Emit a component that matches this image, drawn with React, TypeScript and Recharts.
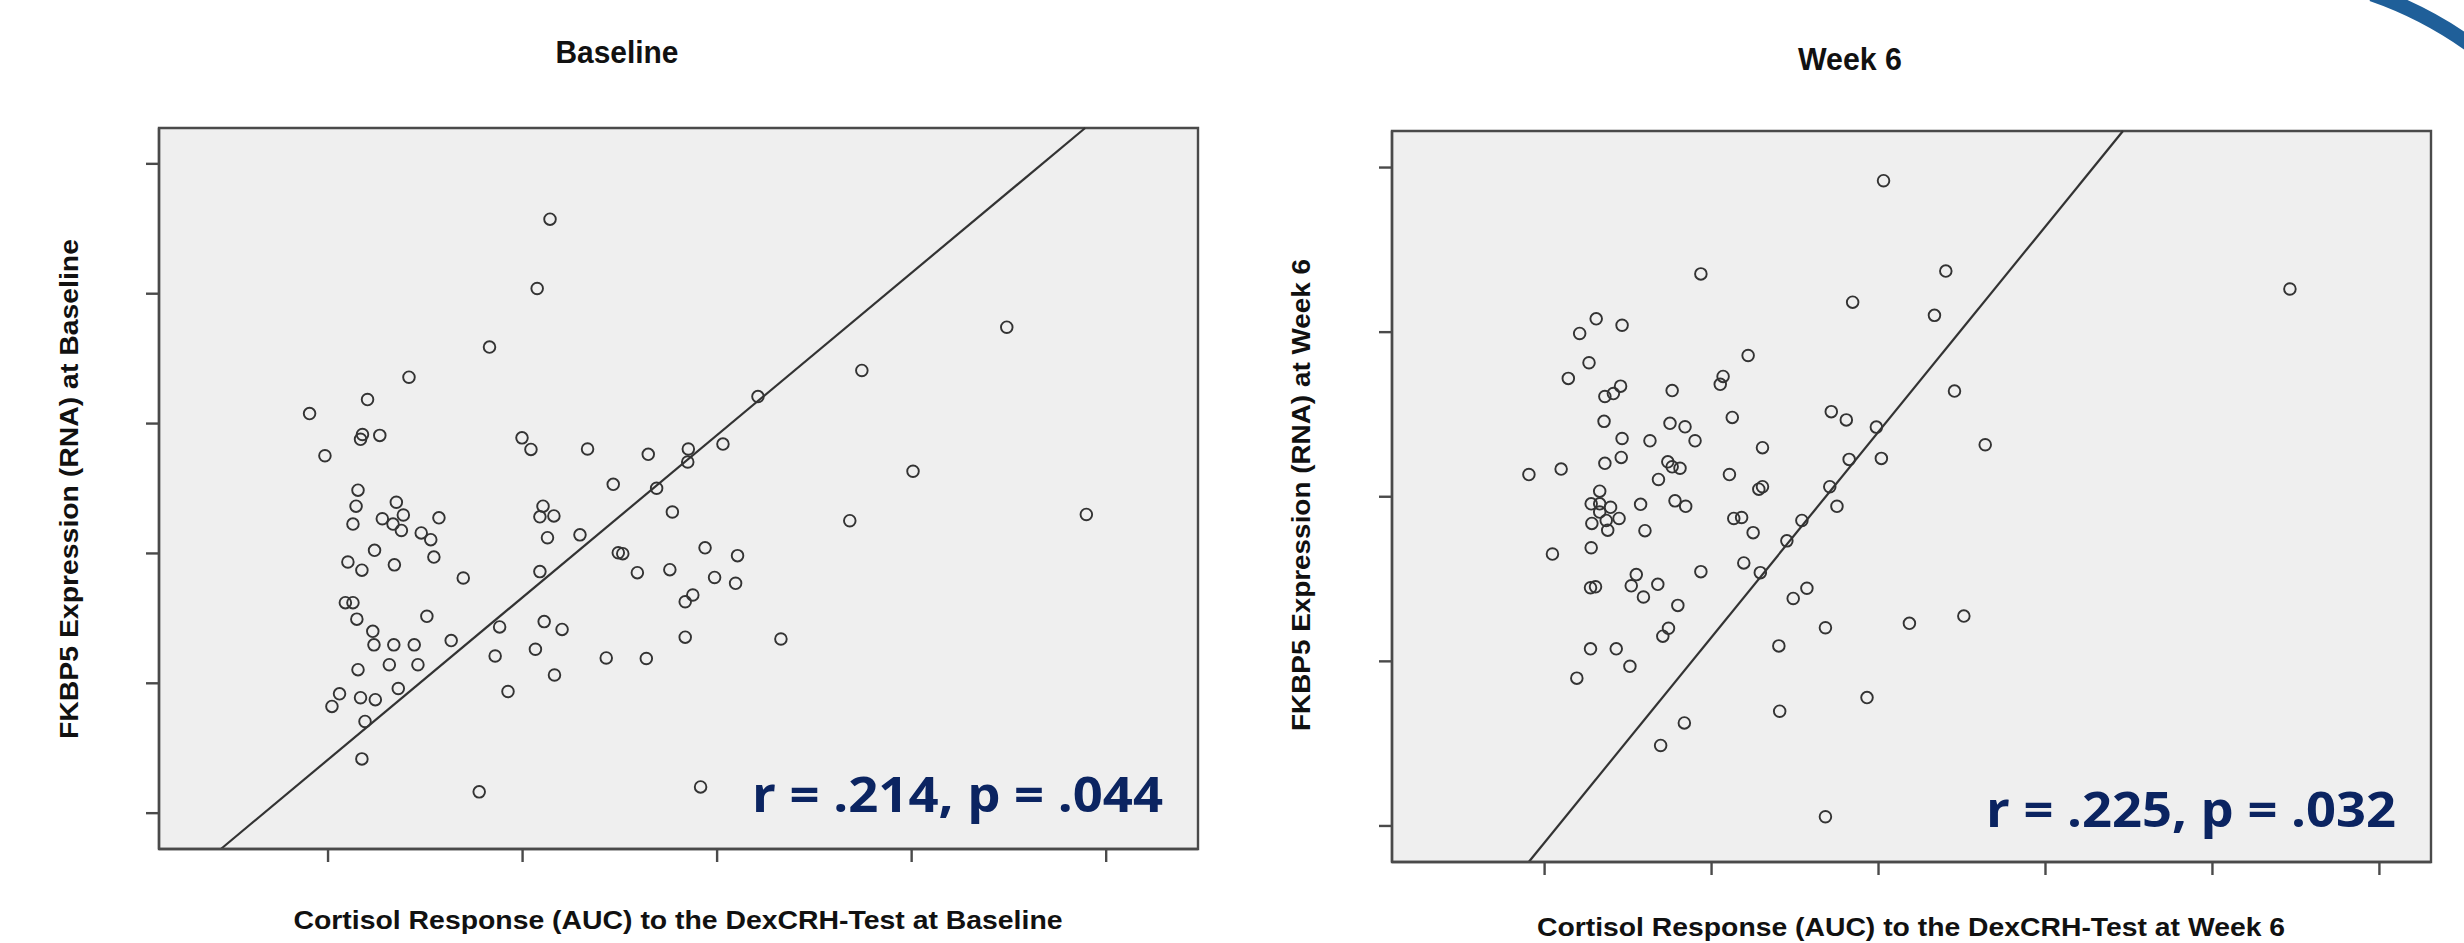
import React from 'react';
import {
  ScatterChart,
  Scatter,
  XAxis,
  YAxis,
  ReferenceArea,
  ReferenceLine,
} from 'recharts';

// ---------- Baseline panel ----------
const baselineX = [
  2.141, 2.075, 1.83, 1.416, 1.203, 0.905, 1.177, 1.167, 1.266, 0.984,
  4.489, 3.744, 3.21, 1.997, 2.043, 2.334, 2.646, 2.852, 3.03, 2.849,
  4.007, 2.466, 2.689, 1.154, 1.144, 1.351, 1.128, 1.279, 1.387, 1.334,
  1.377, 1.57, 1.479, 1.528, 2.105, 2.089, 2.161, 2.128, 2.77, 3.682,
  4.898, 2.295, 1.239, 1.544, 1.102, 1.174, 1.341, 2.492, 2.515, 2.938,
  3.105, 2.089, 2.59, 2.757, 2.987, 3.095, 1.695, 1.089, 1.128, 1.148,
  2.875, 2.836, 1.508, 1.23, 1.236, 1.338, 1.443, 1.633, 1.882, 2.111,
  2.203, 1.859, 2.066, 2.836, 3.328, 2.43, 2.636, 1.154, 1.315, 1.462,
  2.164, 1.925, 1.361, 1.059, 1.02, 1.167, 1.243, 1.19, 1.174, 1.777,
  2.915,
];
const baselineY = [
  4.574, 4.04, 3.589, 3.357, 3.185, 3.077, 2.916, 2.879, 2.909, 2.752,
  3.742, 3.409, 3.208, 2.89, 2.801, 2.804, 2.763, 2.804, 2.842, 2.704,
  2.633, 2.532, 2.502, 2.487, 2.364, 2.394, 2.226, 2.267, 2.296, 2.226,
  2.177, 2.274, 2.158, 2.106, 2.364, 2.282, 2.289, 2.121, 2.319, 2.252,
  2.3, 2.143, 2.024, 1.972, 1.934, 1.871, 1.912, 2.005, 1.998, 2.043,
  1.983, 1.86, 1.852, 1.875, 1.815, 1.77, 1.811, 1.621, 1.621, 1.494,
  1.68, 1.628, 1.516, 1.4, 1.296, 1.296, 1.296, 1.329, 1.434, 1.475,
  1.415, 1.21, 1.262, 1.355, 1.341, 1.195, 1.191, 1.105, 1.143, 1.143,
  1.064, 0.937, 0.96, 0.919, 0.822, 0.889, 0.874, 0.706, 0.418, 0.164,
  0.202,
];
const baselineXTicks = [1, 2, 3, 4, 5];
const baselineYTicks = [0, 1, 2, 3, 4, 5];
const baselineXDomain = [0.131, 5.472];
const baselineYDomain = [-0.276, 5.276];
const baselineFitX = [0.449, 4.892];
const baselineFitY = [-0.276, 5.276];

// ---------- Week 6 panel ----------
const week6X = [
  3.03, 1.936, 3.403, 5.464, 2.845, 3.335, 1.309, 1.464, 1.21, 2.219,
  1.266, 1.142, 2.069, 2.052, 1.455, 1.412, 1.361, 1.764, 3.455, 2.124,
  2.717, 2.807, 2.987, 1.356, 1.751, 1.841, 1.464, 1.631, 1.901, 3.639,
  2.305, 1.459, 1.361, 1.738, 1.764, 1.811, 2.824, 3.017, 0.906, 1.099,
  2.107, 1.682, 2.305, 2.283, 2.708, 1.33, 1.279, 1.33, 1.395, 1.33,
  1.575, 1.781, 1.845, 2.751, 1.283, 1.369, 1.446, 1.378, 1.601, 2.133,
  2.18, 2.541, 2.249, 2.451, 1.047, 1.279, 2.193, 1.936, 2.292, 1.549,
  1.275, 1.305, 1.519, 1.678, 1.592, 2.571, 2.489, 1.798, 1.742, 1.708,
  2.682, 3.185, 3.511, 2.403, 1.275, 1.429, 1.511, 1.193, 2.931, 2.408,
  1.837, 1.695, 2.682,
];
const week6Y = [
  3.92, 3.354, 3.371, 3.262, 3.182, 3.102, 3.081, 3.042, 2.992, 2.858,
  2.814, 2.719, 2.731, 2.683, 2.672, 2.627, 2.609, 2.645, 2.642, 2.482,
  2.517, 2.467, 2.423, 2.458, 2.446, 2.425, 2.354, 2.34, 2.34, 2.316,
  2.298, 2.239, 2.203, 2.212, 2.182, 2.173, 2.227, 2.233, 2.135, 2.168,
  2.135, 2.105, 2.061, 2.046, 2.061, 2.034, 1.957, 1.957, 1.936, 1.907,
  1.954, 1.975, 1.942, 1.942, 1.838, 1.856, 1.868, 1.797, 1.794, 1.868,
  1.874, 1.856, 1.782, 1.732, 1.652, 1.69, 1.598, 1.545, 1.539, 1.527,
  1.447, 1.453, 1.459, 1.468, 1.391, 1.444, 1.382, 1.34, 1.201, 1.153,
  1.204, 1.231, 1.275, 1.094, 1.076, 1.076, 0.97, 0.898, 0.78, 0.697,
  0.626, 0.489, 0.056,
];
const week6XTicks = [1, 2, 3, 4, 5, 6];
const week6YTicks = [0, 1, 2, 3, 4];
const week6XDomain = [0.086, 6.309];
const week6YDomain = [-0.219, 4.222];
const week6FitX = [0.905, 4.464];
const week6FitY = [-0.219, 4.222];

// ---------- Texts ----------
const titles = ['Baseline', 'Week 6'];
const xLabels = [
  'Cortisol Response (AUC) to the DexCRH-Test at Baseline',
  'Cortisol Response (AUC) to the DexCRH-Test at Week 6',
];
const yLabels = [
  'FKBP5 Expression (RNA) at Baseline',
  'FKBP5 Expression (RNA) at Week 6',
];
const statLabels = ['r = .214, p = .044', 'r = .225, p = .032'];

const AXIS = '#4a4a4a';
const PLOT_BG = '#efefef';
const NAVY = '#0b2461';

const toPoints = (xs: number[], ys: number[]) => xs.map((x, i) => ({ x, y: ys[i] }));

const Ring = (props: any) => {
  const { cx, cy } = props;
  if (cx == null || cy == null) return null;
  return <circle cx={cx} cy={cy} r={5.8} fill="none" stroke="#333333" strokeWidth={1.9} />;
};

type PanelProps = {
  left: number;
  margin: { top: number; right: number; bottom: number; left: number };
  xs: number[];
  ys: number[];
  xTicks: number[];
  yTicks: number[];
  xDomain: number[];
  yDomain: number[];
  fitX: number[];
  fitY: number[];
};

const Panel = ({ left, margin, xs, ys, xTicks, yTicks, xDomain, yDomain, fitX, fitY }: PanelProps) => {
  const data = toPoints(xs, ys);
  return (
    <div style={{ position: 'absolute', left, top: 0 }}>
      <ScatterChart width={1232} height={943} margin={margin}>
        <XAxis
          type="number"
          dataKey="x"
          domain={xDomain}
          ticks={xTicks}
          allowDataOverflow
          height={20}
          tickSize={13}
          tickFormatter={() => ''}
          axisLine={{ stroke: AXIS, strokeWidth: 2.4 }}
          tickLine={{ stroke: AXIS, strokeWidth: 2.4 }}
        />
        <YAxis
          type="number"
          dataKey="y"
          domain={yDomain}
          ticks={yTicks}
          allowDataOverflow
          width={20}
          tickSize={13}
          tickFormatter={() => ''}
          axisLine={{ stroke: AXIS, strokeWidth: 2.4 }}
          tickLine={{ stroke: AXIS, strokeWidth: 2.4 }}
        />
        <ReferenceArea
          x1={xDomain[0]}
          x2={xDomain[1]}
          y1={yDomain[0]}
          y2={yDomain[1]}
          fill={PLOT_BG}
          fillOpacity={1}
          stroke={AXIS}
          strokeWidth={2.4}
          ifOverflow="visible"
        />
        <ReferenceLine
          segment={[
            { x: fitX[0], y: fitY[0] },
            { x: fitX[1], y: fitY[1] },
          ]}
          stroke="#333333"
          strokeWidth={2.2}
          ifOverflow="visible"
        />
        <Scatter data={data} shape={<Ring />} isAnimationActive={false} />
      </ScatterChart>
    </div>
  );
};

const textFont = '"Liberation Sans", Arial, sans-serif';

export default function App() {
  return (
    <div style={{ position: 'absolute', left: 0, top: 0, width: 2464, height: 943, background: '#ffffff', overflow: 'hidden' }}>
      <Panel
        left={0}
        margin={{ top: 128, right: 34, bottom: 74, left: 139 }}
        xs={baselineX}
        ys={baselineY}
        xTicks={baselineXTicks}
        yTicks={baselineYTicks}
        xDomain={baselineXDomain}
        yDomain={baselineYDomain}
        fitX={baselineFitX}
        fitY={baselineFitY}
      />
      <Panel
        left={1232}
        margin={{ top: 131, right: 33, bottom: 61, left: 140 }}
        xs={week6X}
        ys={week6Y}
        xTicks={week6XTicks}
        yTicks={week6YTicks}
        xDomain={week6XDomain}
        yDomain={week6YDomain}
        fitX={week6FitX}
        fitY={week6FitY}
      />
      <svg
        width={2464}
        height={943}
        style={{ position: 'absolute', left: 0, top: 0, pointerEvents: 'none' }}
      >
        {/* titles */}
        <text x={617} y={63} textAnchor="middle" fontFamily={textFont} fontWeight="bold" fontSize={31} textLength={123} lengthAdjust="spacingAndGlyphs" fill="#111">
          {titles[0]}
        </text>
        <text x={1850} y={70} textAnchor="middle" fontFamily={textFont} fontWeight="bold" fontSize={31} textLength={104} lengthAdjust="spacingAndGlyphs" fill="#111">
          {titles[1]}
        </text>
        {/* x labels */}
        <text x={678} y={929} textAnchor="middle" fontFamily={textFont} fontWeight="bold" fontSize={26} textLength={769} lengthAdjust="spacingAndGlyphs" fill="#111">
          {xLabels[0]}
        </text>
        <text x={1911} y={936} textAnchor="middle" fontFamily={textFont} fontWeight="bold" fontSize={26} textLength={748} lengthAdjust="spacingAndGlyphs" fill="#111">
          {xLabels[1]}
        </text>
        {/* y labels */}
        <text x={78} y={489} transform="rotate(-90 78 489)" textAnchor="middle" fontFamily={textFont} fontWeight="bold" fontSize={26} textLength={500} lengthAdjust="spacingAndGlyphs" fill="#111">
          {yLabels[0]}
        </text>
        <text x={1310} y={495} transform="rotate(-90 1310 495)" textAnchor="middle" fontFamily={textFont} fontWeight="bold" fontSize={26} textLength={472} lengthAdjust="spacingAndGlyphs" fill="#111">
          {yLabels[1]}
        </text>
        {/* statistics */}
        <text x={752} y={812} fontFamily='"Open Sans", sans-serif' fontWeight="bold" fontSize={48} textLength={411} lengthAdjust="spacingAndGlyphs" fill={NAVY}>
          {statLabels[0]}
        </text>
        <text x={1986} y={827} fontFamily='"Open Sans", sans-serif' fontWeight="bold" fontSize={48} textLength={410} lengthAdjust="spacingAndGlyphs" fill={NAVY}>
          {statLabels[1]}
        </text>
        {/* slide decoration arc */}
        <path d="M 2372 -6 Q 2430 14 2480 52" fill="none" stroke="#1f5f99" strokeWidth={15} />
      </svg>
    </div>
  );
}
